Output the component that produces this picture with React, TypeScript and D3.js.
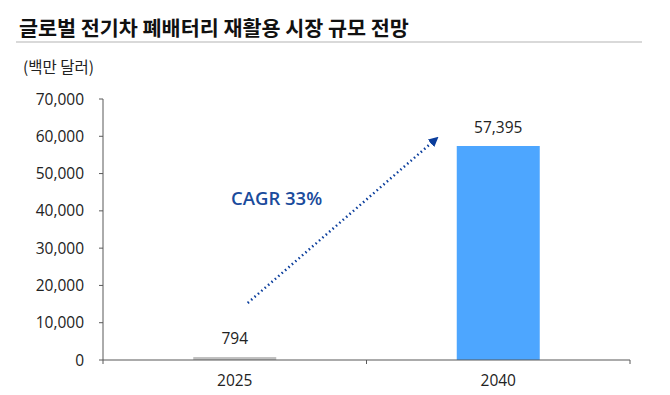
import * as d3 from "d3";
import React from "react";

// 데이터
const years = ["2025", "2040"];
const values = [794, 57395];
const barColors = ["#bfbfbf", "#4da6ff"];
const yTicks = [0, 10000, 20000, 30000, 40000, 50000, 60000, 70000];
const title = "글로벌 전기차 폐배터리 재활용 시장 규모 전망";
const unitLabel = "(백만 달러)";
const cagrLabel = "CAGR 33%";

const W = 670;
const H = 395;
const left = 103;
const right = 630;
const top = 99;
const bottom = 360;
const font = "'Open Sans', 'Noto Sans CJK KR', sans-serif";

export default function App() {
  const x = d3.scaleBand().domain(years).range([left, right]).paddingInner(0.685).paddingOuter(0.3425);
  const y = d3.scaleLinear().domain([0, 70000]).range([bottom, top]);
  const fmt = d3.format(",");
  const step = x.step();

  // 화살표 (주석)
  const x0 = x("2025")! + x.bandwidth() / 2 + 13;
  const y0 = y(15300);
  const x1 = x("2040")! - 19;
  const y1 = y(59700);

  return (
    <svg width={W} height={H} style={{ position: "absolute", left: 0, top: 0 }}>
      <defs>
        <marker id="ah" viewBox="0 0 10 10" refX="9" refY="5" markerWidth="4" markerHeight="4" orient="auto">
          <path d="M0,0 L10,5 L0,10 z" fill="#0a3d9c" />
        </marker>
      </defs>
      <text x={19} y={36} fontFamily="'Noto Sans CJK KR', sans-serif" fontWeight="bold" fontSize={20.7} fill="#111">
        {title}
      </text>
      <line x1={16} x2={642} y1={42} y2={42} stroke="#d9d9d9" strokeWidth={2} />
      <text x={23} y={73} fontFamily="'Noto Sans CJK KR', sans-serif" fontSize={15.5} fill="#222">
        {unitLabel}
      </text>

      {/* y axis */}
      <line x1={left} x2={left} y1={top} y2={bottom} stroke="#595959" strokeWidth={1} />
      {yTicks.map((t) => (
        <g key={t}>
          <line x1={left - 4} x2={left} y1={y(t)} y2={y(t)} stroke="#595959" />
          <text x={84} y={y(t) + 5.5} textAnchor="end" fontFamily={font} fontSize={15.5} fill="#222">
            {fmt(t)}
          </text>
        </g>
      ))}

      {/* bars */}
      {years.map((c, i) => (
        <g key={c}>
          <rect x={x(c)} y={y(values[i])} width={x.bandwidth()} height={bottom - y(values[i])} fill={barColors[i]} />
          <text x={x(c)! + x.bandwidth() / 2} y={y(values[i]) - 13} textAnchor="middle" fontFamily={font} fontSize={15.5} fill="#222">
            {fmt(values[i])}
          </text>
          <text x={x(c)! + x.bandwidth() / 2} y={386} textAnchor="middle" fontFamily={font} fontSize={15.5} fill="#222">
            {c}
          </text>
        </g>
      ))}

      {/* x axis */}
      <line x1={left} x2={right} y1={bottom} y2={bottom} stroke="#595959" strokeWidth={1.2} />
      {[0, 1, 2].map((k) => (
        <line key={k} x1={left + k * step} x2={left + k * step} y1={bottom} y2={bottom + 4} stroke="#595959" />
      ))}

      {/* CAGR arrow */}
      <line x1={x0} y1={y0} x2={x1} y2={y1} stroke="#0a3d9c" strokeWidth={2.5} strokeDasharray="1.5 3" markerEnd="url(#ah)" />
      <text x={231} y={205} fontFamily={font} fontWeight={600} fontSize={18.5} fill="#1a4b9c">
        {cagrLabel}
      </text>
    </svg>
  );
}
